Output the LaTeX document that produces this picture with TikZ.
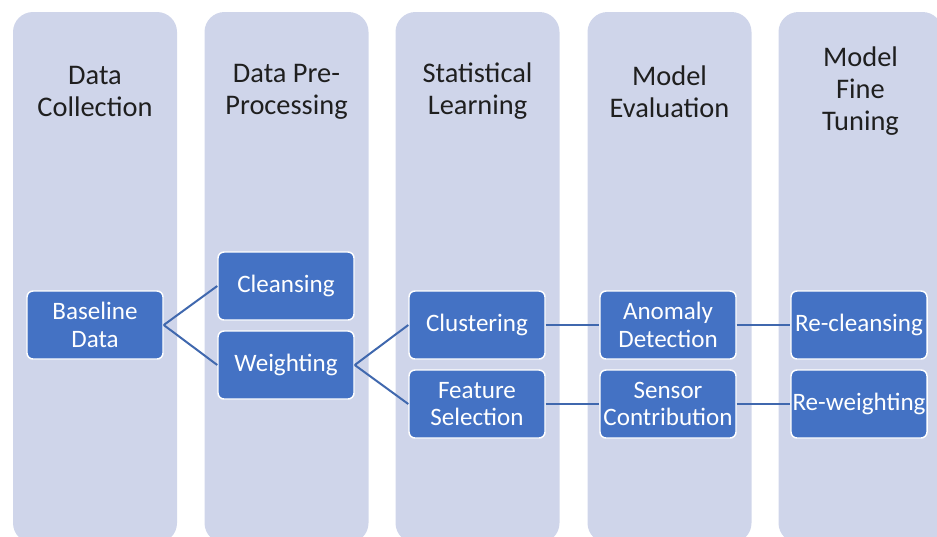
\documentclass[tikz,border=0pt]{standalone}
\usepackage{fontspec}
\setmainfont{Carlito}

\definecolor{colfill}{HTML}{CFD5EA}
\definecolor{boxblue}{HTML}{4472C4}
\definecolor{linkblue}{HTML}{4068AE}

\begin{document}
\begin{tikzpicture}[
    x=0.75pt, y=-0.75pt,
    column/.style={fill=colfill, rounded corners=15pt, minimum width=123pt,
                   minimum height=398.25pt, inner sep=0pt},
    head/.style={font=\fontsize{21.3}{24}\selectfont, text=black!88, align=center},
    task/.style={rectangle, rounded corners=4.5pt, draw=white, line width=1.1pt,
                 fill=boxblue, text=white, font=\fontsize{18.8}{20.5}\selectfont,
                 align=center, minimum width=102pt, minimum height=51pt, inner sep=0pt},
    link/.style={linkblue, line width=1.5pt},
]
\useasboundingbox (0,0) rectangle (937,536);

% --- Stage columns ---
\node[column] (col1) at (95, 277.5)    {};
\node[column] (col2) at (286.5, 277.5) {};
\node[column] (col3) at (477.5, 277.5) {};
\node[column] (col4) at (669.5, 277.5) {};
\node[column] (col5) at (860.5, 277.5) {};

% --- Stage headings ---
\node[head] (h1) at (95, 91.5)    {Data\\Collection};
\node[head] (h2) at (286.5, 91.5) {Data Pre-\\Processing};
\node[head] (h3) at (477.5, 91.5) {Statistical\\Learning};
\node[head] (h4) at (669.5, 91.5) {Model\\Evaluation};
\node[head] (h5) at (860.5, 91.5) {Model\\Fine\\Tuning};

% --- Tasks ---
\node[task] (base)    at (95, 325)  {Baseline\\Data};
\node[task] (clean)   at (286, 286) {Cleansing};
\node[task] (weight)  at (286, 365) {Weighting};
\node[task] (cluster) at (477, 325) {Clustering};
\node[task] (feature) at (477, 404) {Feature\\Selection};
\node[task] (anomaly) at (668, 325) {Anomaly\\Detection};
\node[task] (sensor)  at (668, 404) {Sensor\\Contribution};
\node[task] (reclean) at (859, 325) {Re-cleansing};
\node[task] (reweigh) at (859, 404) {Re-weighting};

% --- Links ---
\draw[link] (base.east) -- (clean.west);
\draw[link] (base.east) -- (weight.west);
\draw[link] (weight.east) -- (cluster.west);
\draw[link] (weight.east) -- (feature.west);
\draw[link] (cluster.east) -- (anomaly.west);
\draw[link] (feature.east) -- (sensor.west);
\draw[link] (anomaly.east) -- (reclean.west);
\draw[link] (sensor.east) -- (reweigh.west);

\end{tikzpicture}
\end{document}
